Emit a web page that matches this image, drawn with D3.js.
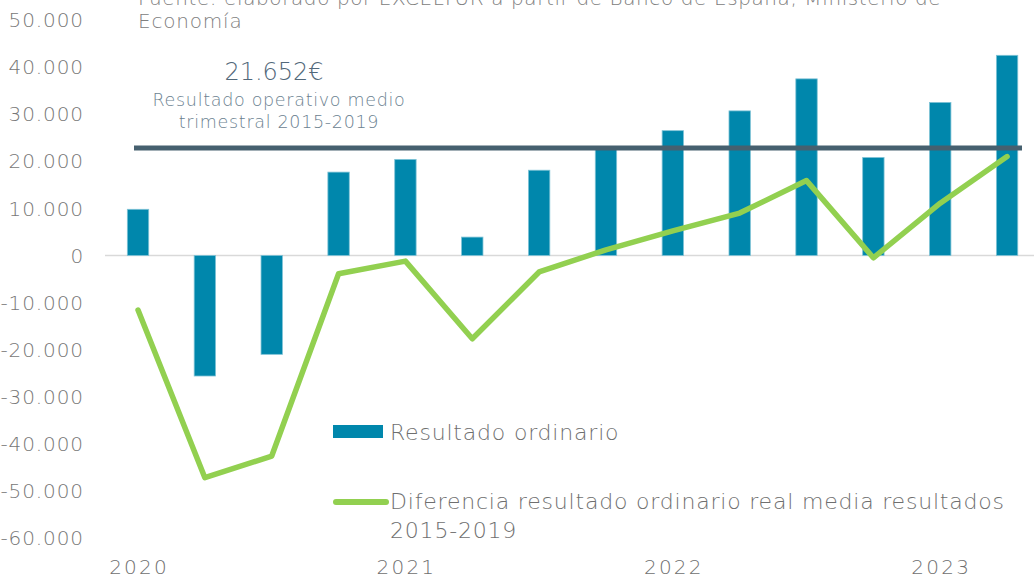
<!DOCTYPE html>
<html>
<head>
<meta charset="utf-8">
<script src="https://cdn.jsdelivr.net/npm/d3@7"></script>
<style>
  body { margin: 0; background: #fff; }
  svg { display: block; font-family: "DejaVu Sans", sans-serif; font-weight: 200; }
</style>
</head>
<body>
<div id="chart"></div>
<script>
// Quarters 2020Q1 .. 2023Q2
const quarters = ["2020T1","2020T2","2020T3","2020T4","2021T1","2021T2","2021T3","2021T4",
                  "2022T1","2022T2","2022T3","2022T4","2023T1","2023T2"];
const resultado = [9800, -25600, -21000, 17700, 20400, 3900, 18100, 22900,
                   26500, 30700, 37500, 20800, 32500, 42500];
const diferencia = [-11600, -47200, -42600, -3900, -1200, -17700, -3500, 1200,
                    5200, 9000, 15900, -500, 11100, 21000];
const mediaLine = 22800;
const mediaLabel = "21.652€";
const yTicks = [50000, 40000, 30000, 20000, 10000, 0, -10000, -20000, -30000, -40000, -50000, -60000];
const yearLabels = [{q: "2020T1", label: "2020"}, {q: "2021T1", label: "2021"},
                    {q: "2022T1", label: "2022"}, {q: "2023T1", label: "2023"}];

const width = 1034, height = 580;
const svg = d3.select("#chart").append("svg")
    .attr("width", width)
    .attr("height", height);

const x = d3.scaleBand().domain(quarters).range([104.6, 1040.5]).paddingInner(0.68).paddingOuter(0.34);
const y = d3.scaleLinear().domain([-60000, 50000]).range([538, 20]);
const xc = d => x(d) + x.bandwidth() / 2;

// Spanish style: dot for thousands, plain hyphen for minus
const fmt = v => d3.format(",")(v).replace(/,/g, ".").replace("\u2212", "-");

// y tick labels
svg.append("g").selectAll("text")
    .data(yTicks)
    .enter().append("text")
    .attr("x", 84)
    .attr("y", d => y(d))
    .attr("dy", "0.36em")
    .attr("text-anchor", "end")
    .attr("font-size", 20)
    .attr("letter-spacing", 0.9)
    .attr("fill", "#777")
    .text(d => fmt(d));

// source note (partly cut at top)
svg.append("text").attr("x", 138).attr("y", 5).attr("font-size", 20).attr("letter-spacing", 0.6)
    .attr("fill", "#808080")
    .text("Fuente: elaborado por EXCELTUR a partir de Banco de España, Ministerio de");
svg.append("text").attr("x", 138).attr("y", 28).attr("font-size", 20).attr("letter-spacing", 0.8)
    .attr("fill", "#808080")
    .text("Economía");

// zero line
svg.append("line")
    .attr("x1", 105).attr("x2", 1034)
    .attr("y1", y(0)).attr("y2", y(0))
    .attr("stroke", "#d9d9d9").attr("stroke-width", 1.5);

// bars
svg.append("g").selectAll("rect")
    .data(quarters)
    .enter().append("rect")
    .attr("x", d => x(d))
    .attr("width", x.bandwidth())
    .attr("y", (d, i) => y(Math.max(0, resultado[i])))
    .attr("height", (d, i) => Math.abs(y(resultado[i]) - y(0)))
    .attr("fill", "#0087ac")
    .attr("stroke", "#7fc3d6")
    .attr("stroke-width", 0.8);

// average line
svg.append("line")
    .attr("x1", 134).attr("x2", 1022)
    .attr("y1", y(mediaLine)).attr("y2", y(mediaLine))
    .attr("stroke", "#46606f").attr("stroke-width", 5);

svg.append("text").attr("x", 274).attr("y", 80).attr("text-anchor", "middle")
    .attr("font-size", 24).attr("fill", "#52687a").text(mediaLabel);
svg.append("text").attr("x", 279).attr("y", 106).attr("text-anchor", "middle")
    .attr("font-size", 17.5).attr("letter-spacing", 0.7).attr("fill", "#6b8190")
    .text("Resultado operativo medio");
svg.append("text").attr("x", 279).attr("y", 128).attr("text-anchor", "middle")
    .attr("font-size", 17.5).attr("letter-spacing", 0.7).attr("fill", "#6b8190")
    .text("trimestral 2015-2019");

// difference line
const line = d3.line()
    .x((d, i) => xc(quarters[i]))
    .y(d => y(d));
svg.append("path")
    .datum(diferencia)
    .attr("d", line)
    .attr("fill", "none")
    .attr("stroke", "#92d050")
    .attr("stroke-width", 5.5)
    .attr("stroke-linecap", "round")
    .attr("stroke-linejoin", "round");

// year labels
svg.append("g").selectAll("text")
    .data(yearLabels)
    .enter().append("text")
    .attr("x", d => xc(d.q) + 1)
    .attr("y", 574)
    .attr("text-anchor", "middle")
    .attr("font-size", 20)
    .attr("letter-spacing", 2.2)
    .attr("fill", "#6f6f6f")
    .text(d => d.label);

// legend
const legendText = { size: 22, spacing: 0.8, color: "#6f6f6f" };
svg.append("rect").attr("x", 333).attr("y", 425).attr("width", 50).attr("height", 13).attr("fill", "#0087ac");
svg.append("text").attr("x", 390).attr("y", 440).attr("font-size", legendText.size)
    .attr("letter-spacing", legendText.spacing).attr("fill", legendText.color)
    .text("Resultado ordinario");
svg.append("line").attr("x1", 336).attr("x2", 386).attr("y1", 502).attr("y2", 502)
    .attr("stroke", "#92d050").attr("stroke-width", 6).attr("stroke-linecap", "round");
svg.append("text").attr("x", 390).attr("y", 509).attr("font-size", legendText.size)
    .attr("letter-spacing", legendText.spacing).attr("fill", legendText.color)
    .text("Diferencia resultado ordinario real media resultados");
svg.append("text").attr("x", 390).attr("y", 538).attr("font-size", legendText.size)
    .attr("letter-spacing", legendText.spacing).attr("fill", legendText.color)
    .text("2015-2019");
</script>
</body>
</html>
